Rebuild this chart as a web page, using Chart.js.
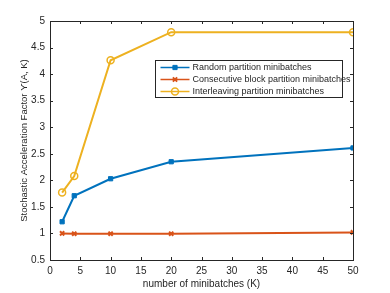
<!DOCTYPE html>
<html>
<head>
<meta charset="utf-8">
<script src="https://cdn.jsdelivr.net/npm/chart.js@4"></script>
<style>
  html, body { margin: 0; padding: 0; background: #fff; }
  #wrap { width: 390px; height: 293px; }
</style>
</head>
<body>
<div id="wrap"><canvas id="lineChart" width="390" height="293"></canvas></div>
<script>
// number of minibatches K
const minibatches = [2, 4, 10, 20, 50];

// acceleration factor for each partition type
const randomValues = [1.22, 1.71, 2.03, 2.35, 2.61];
const consecutiveValues = [1.0, 0.995, 0.995, 0.995, 1.02];
const interleavingValues = [1.77, 2.08, 4.26, 4.79, 4.79];

const seriesNames = [
    'Random partition minibatches',
    'Consecutive block partition minibatches',
    'Interleaving partition minibatches'
];

const xTicks = [0, 5, 10, 15, 20, 25, 30, 35, 40, 45, 50];
const yTicks = [0.5, 1, 1.5, 2, 2.5, 3, 3.5, 4, 4.5, 5];

const axisColor = '#262626';
const fontName = '"Liberation Sans", Arial, sans-serif';

function toPoints (values) {
    return values.map((v, i) => ({ x: minibatches[i], y: v }));
}

// draws the box, inward ticks and the legend like matlab does
const boxPlugin = {
    id: 'boxPlugin',
    afterDraw (chart) {
        const ctx = chart.ctx;
        const a = chart.chartArea;
        const xs = chart.scales.x;
        const ys = chart.scales.y;
        ctx.save();
        ctx.strokeStyle = axisColor;
        ctx.lineWidth = 1;
        ctx.strokeRect(Math.round(a.left) + 0.5, Math.round(a.top) + 0.5,
            Math.round(a.right - a.left), Math.round(a.bottom - a.top));
        ctx.beginPath();
        xTicks.forEach(t => {
            const px = Math.round(xs.getPixelForValue(t)) + 0.5;
            ctx.moveTo(px, a.bottom); ctx.lineTo(px, a.bottom - 3);
            ctx.moveTo(px, a.top); ctx.lineTo(px, a.top + 3);
        });
        yTicks.forEach(t => {
            const py = Math.round(ys.getPixelForValue(t)) + 0.5;
            ctx.moveTo(a.left, py); ctx.lineTo(a.left + 3, py);
            ctx.moveTo(a.right, py); ctx.lineTo(a.right - 3, py);
        });
        ctx.stroke();

        // legend box
        const lx = 155.5, ly = 60.5, lw = 187, lh = 37;
        ctx.fillStyle = '#fff';
        ctx.fillRect(lx, ly, lw, lh);
        ctx.strokeStyle = '#262626';
        ctx.strokeRect(lx, ly, lw, lh);
        ctx.font = '9px ' + fontName;
        ctx.textBaseline = 'middle';
        chart.data.datasets.forEach((ds, i) => {
            const cy = ly + 7 + i * 12;
            ctx.strokeStyle = ds.borderColor;
            ctx.lineWidth = 1.5;
            ctx.beginPath();
            ctx.moveTo(lx + 5, cy); ctx.lineTo(lx + 34, cy);
            ctx.stroke();
            ctx.fillStyle = ds.backgroundColor;
            ctx.lineWidth = ds.pointBorderWidth || 1.5;
            Chart.helpers.drawPoint(ctx, {
                pointStyle: ds.pointStyle,
                radius: ds.pointRadius,
                rotation: 0,
                borderWidth: ds.pointBorderWidth || 1.5
            }, lx + 19.5, cy);
            ctx.fillStyle = axisColor;
            ctx.fillText(ds.label, lx + 37, cy + 0.5);
        });
        ctx.restore();
    }
};

const data = {
    datasets: [
        {
            label: seriesNames[0],
            data: toPoints(randomValues),
            borderColor: '#0072BD',
            backgroundColor: '#0072BD',
            pointStyle: 'rect',
            pointRadius: 3,
            pointBorderWidth: 1,
            borderWidth: 2
        },
        {
            label: seriesNames[1],
            data: toPoints(consecutiveValues),
            borderColor: '#D95319',
            backgroundColor: '#D95319',
            pointStyle: 'crossRot',
            pointRadius: 3,
            pointBorderWidth: 2,
            borderWidth: 2
        },
        {
            label: seriesNames[2],
            data: toPoints(interleavingValues),
            borderColor: '#EDB120',
            backgroundColor: 'rgba(255,255,255,0)',
            pointStyle: 'circle',
            pointRadius: 3.5,
            pointBorderWidth: 1.5,
            borderWidth: 2
        }
    ]
};

const config = {
    type: 'line',
    data: data,
    options: {
        responsive: false,
        animation: false,
        layout: { padding: { left: 19, top: 21, right: 37, bottom: 0 } },
        plugins: {
            legend: { display: false },
            tooltip: { enabled: false }
        },
        scales: {
            x: {
                type: 'linear',
                min: 0,
                max: 50,
                afterBuildTicks: s => { s.ticks = xTicks.map(v => ({ value: v })); },
                afterFit: s => { s.height = 33; },
                grid: { display: false, drawTicks: false },
                border: { display: false },
                ticks: {
                    color: axisColor,
                    padding: 5,
                    maxRotation: 0,
                    font: { family: fontName, size: 10 }
                },
                title: {
                    display: true,
                    text: 'number of minibatches (K)',
                    color: axisColor,
                    padding: { top: 1, bottom: 3 },
                    font: { family: fontName, size: 10 }
                }
            },
            y: {
                type: 'linear',
                min: 0.5,
                max: 5,
                afterBuildTicks: s => { s.ticks = yTicks.map(v => ({ value: v })); },
                afterFit: s => { s.width = 31; },
                grid: { display: false, drawTicks: false },
                border: { display: false },
                ticks: {
                    color: axisColor,
                    padding: 5,
                    callback: v => String(v),
                    font: { family: fontName, size: 10 }
                },
                title: {
                    display: true,
                    text: 'Stochastic Acceleration Factor ϒ(A, K)',
                    color: axisColor,
                    padding: { top: 0, bottom: 2 },
                    font: { family: fontName, size: 9.5 }
                }
            }
        }
    },
    plugins: [boxPlugin]
};

const myChart = new Chart(document.getElementById('lineChart'), config);
</script>
</body>
</html>
